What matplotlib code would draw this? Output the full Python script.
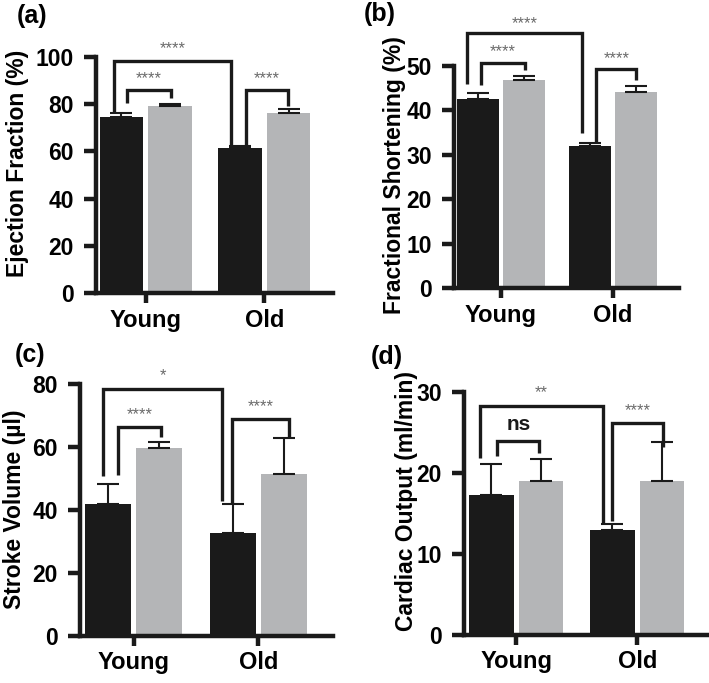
import matplotlib
matplotlib.use('Agg')
import matplotlib.pyplot as plt

plt.rcParams['font.family'] = ['Liberation Sans', 'DejaVu Sans']

W, H = 709, 683

groups = ['Young', 'Old']

# (a) Ejection fraction
ef_black = [74.6, 61.3]
ef_black_err = [1.4, 1.1]
ef_gray = [79.2, 76.3]
ef_gray_err = [0.8, 1.6]

# (b) Fractional shortening
fs_black = [42.5, 32.0]
fs_black_err = [1.3, 0.7]
fs_gray = [46.9, 44.2]
fs_gray_err = [0.7, 1.2]

# (c) Stroke volume
sv_black = [41.9, 32.6]
sv_black_err = [6.4, 9.4]
sv_gray = [59.7, 51.5]
sv_gray_err = [2.1, 11.3]

# (d) Cardiac output
co_black = [17.3, 13.0]
co_black_err = [3.8, 0.65]
co_gray = [19.0, 19.0]
co_gray_err = [2.7, 4.8]

# significance brackets: (x_left, x_right, y_bar, y_left_end, y_right_end, label, label_y)
brackets_a = [(-0.27, 0.72, 98.2, 76.0, 60.0, '****', 105.7),
              (-0.16, 0.21, 85.9, 80.4, 82.5, '****', 93.1),
              (0.85, 1.20, 86.0, 60.0, 79.0, '****', 93.1)]
brackets_b = [(-0.30, 0.72, 57.3, 46.0, 34.9, '****', 60.6),
              (-0.18, 0.21, 50.5, 45.7, 49.0, '****', 54.3),
              (0.85, 1.21, 49.3, 32.9, 46.8, '****', 52.9)]
brackets_c = [(-0.25, 0.71, 78.4, 50.9, 42.9, '*', 84.5),
              (-0.126, 0.22, 66.3, 51.2, 63.3, '****', 72.0),
              (0.79, 1.25, 69.0, 42.2, 63.3, '****', 74.8)]
brackets_d = [(-0.30, 0.717, 28.2, 21.8, 13.85, '**', 30.6),
              (-0.157, 0.19, 23.9, 22.1, 22.5, 'ns', 25.9),
              (0.79, 1.21, 26.1, 14.0, 23.2, '****', 28.4)]

panels = [
    dict(tag='(a)', ylabel='Ejection Fraction (%)', black=ef_black, berr=ef_black_err,
         gray=ef_gray, gerr=ef_gray_err, ymax=100, yticks=[0, 20, 40, 60, 80, 100],
         box=(96, 333, 293.3, 56.7), xlim=(-0.42, 1.58), br=brackets_a,
         tagpos=(17, 4), ylabpos=(17.5, 163)),
    dict(tag='(b)', ylabel='Fractional Shortening (%)', black=fs_black, berr=fs_black_err,
         gray=fs_gray, gerr=fs_gray_err, ymax=50, yticks=[0, 10, 20, 30, 40, 50],
         box=(454, 679, 288.3, 65.7), xlim=(-0.42, 1.59), br=brackets_b,
         tagpos=(364, 2), ylabpos=(394, 175)),
    dict(tag='(c)', ylabel='Stroke Volume (µl)', black=sv_black, berr=sv_black_err,
         gray=sv_gray, gerr=sv_gray_err, ymax=80, yticks=[0, 20, 40, 60, 80],
         box=(80, 333, 636, 384.3), xlim=(-0.434, 1.6), br=brackets_c,
         tagpos=(15, 343), ylabpos=(15, 509)),
    dict(tag='(d)', ylabel='Cardiac Output (ml/min)', black=co_black, berr=co_black_err,
         gray=co_gray, gerr=co_gray_err, ymax=30, yticks=[0, 10, 20, 30],
         box=(464, 707, 635, 391.7), xlim=(-0.432, 1.576), br=brackets_d,
         tagpos=(371, 345), ylabpos=(406, 501)),
]

BLACK = '#1a1a1a'
GRAY = '#b4b5b7'
off = 0.205
width = 0.37

fig = plt.figure(figsize=(W / 100, H / 100), dpi=100)

for p in panels:
    l, r, b, t = p['box']
    ax = fig.add_axes([l / W, 1 - b / H, (r - l) / W, (b - t) / H])
    xs = list(range(len(groups)))
    xb = [x - off for x in xs]
    xg = [x + off for x in xs]
    ax.bar(xb, p['black'], width=width, color=BLACK, zorder=2)
    ax.bar(xg, p['gray'], width=width, color=GRAY, zorder=2)
    ax.errorbar(xb, p['black'], yerr=[[0] * 2, p['berr']], fmt='none', ecolor=BLACK,
                elinewidth=1.5, capsize=8, capthick=1.5, zorder=3, clip_on=False)
    ax.errorbar(xg, p['gray'], yerr=[[0] * 2, p['gerr']], fmt='none', ecolor=BLACK,
                elinewidth=1.5, capsize=8, capthick=1.5, zorder=3, clip_on=False)
    for (x1, x2, yb, yl, yr, lab, ly) in p['br']:
        ax.plot([x1, x1, x2, x2], [yl, yb, yb, yr], color=BLACK, lw=2.4,
                solid_joinstyle='miter', solid_capstyle='butt', clip_on=False, zorder=4)
        if lab == 'ns':
            ax.annotate(lab, xy=((x1 + x2) / 2, ly), xytext=(0, -0.26 * 15),
                        textcoords='offset points', ha='center', va='baseline',
                        fontsize=15, fontweight='bold', color=BLACK, annotation_clip=False)
        else:
            ax.annotate(lab, xy=((x1 + x2) / 2, ly), xytext=(0, -0.6 * 12),
                        textcoords='offset points', ha='center', va='baseline',
                        fontsize=12, color='#6a6a6a', annotation_clip=False)
    ax.set_xlim(*p['xlim'])
    ax.set_ylim(0, p['ymax'])
    ax.set_yticks(p['yticks'])
    ax.set_xticks(xs)
    ax.set_xticklabels(groups, fontsize=17, fontweight='bold')
    ax.set_yticklabels([str(v) for v in p['yticks']], fontsize=16.5, fontweight='bold')
    for s in ['top', 'right']:
        ax.spines[s].set_visible(False)
    for s in ['left', 'bottom']:
        ax.spines[s].set_linewidth(3.2)
        ax.spines[s].set_color(BLACK)
        ax.spines[s].set_capstyle('projecting')
    ax.tick_params(axis='y', length=9, width=3.2, pad=7, color=BLACK)
    ax.tick_params(axis='x', length=7, width=3.2, pad=4, color=BLACK)
    fig.text(p['ylabpos'][0] / W, 1 - p['ylabpos'][1] / H, p['ylabel'], rotation=90,
             ha='center', va='center', fontsize=16.5, fontweight='bold')
    fig.text(p['tagpos'][0] / W, 1 - p['tagpos'][1] / H, p['tag'], ha='left', va='top',
             fontsize=18, fontweight='bold')

fig.savefig('out.png', dpi=100)
